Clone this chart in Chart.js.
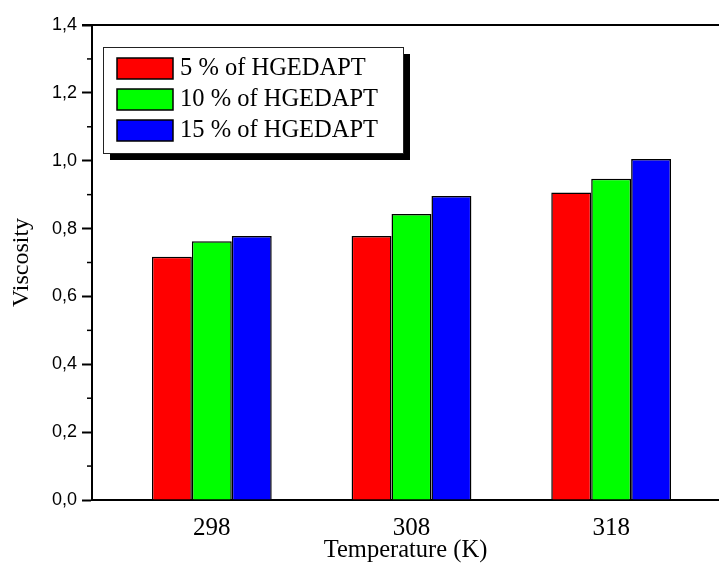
<!DOCTYPE html>
<html>
<head>
<meta charset="utf-8">
<script src="https://cdn.jsdelivr.net/npm/chart.js@4/dist/chart.umd.min.js"></script>
<style>
  html, body { margin: 0; padding: 0; background: #fff; }
  canvas { display: block; }
</style>
</head>
<body>
<canvas id="c" width="719" height="565"></canvas>
<script>
// Temperatures (K) on the x axis
const temperatures = [298, 308, 318];
// Viscosity for each HGEDAPT concentration
const series5 = [0.717, 0.778, 0.906];
const series10 = [0.763, 0.843, 0.947];
const series15 = [0.778, 0.896, 1.005];
const seriesLabels = ['5 % of HGEDAPT', '10 % of HGEDAPT', '15 % of HGEDAPT'];
const seriesColors = ['#ff0000', '#00ff00', '#0000ff'];
const yTicks = [0, 0.2, 0.4, 0.6, 0.8, 1.0, 1.2, 1.4];
const yMinorTicks = [0.1, 0.3, 0.5, 0.7, 0.9, 1.1, 1.3];

const serif = '"Liberation Serif", "Times New Roman", serif';
const sans = '"Liberation Sans", Arial, sans-serif';

function toPoints(vals) {
  return vals.map((v, i) => ({ x: temperatures[i], y: v }));
}

const allSeries = [series5, series10, series15];
const datasets = allSeries.map((vals, i) => ({
  label: seriesLabels[i],
  data: toPoints(vals),
  backgroundColor: seriesColors[i],
  borderColor: '#000',
  borderWidth: 1.5,
  borderSkipped: 'bottom',
  categoryPercentage: 0.6,
  barPercentage: 1.0
}));

// Frame line on top, minor y ticks and the boxed legend with its drop shadow
const decorations = {
  id: 'decorations',
  afterDraw(chart) {
    const ctx = chart.ctx;
    const area = chart.chartArea;
    const y = chart.scales.y;
    ctx.save();
    ctx.strokeStyle = '#000';
    ctx.lineWidth = 2;
    ctx.beginPath();
    ctx.moveTo(area.left - 10, area.top);
    ctx.lineTo(area.right, area.top);
    ctx.stroke();
    ctx.lineWidth = 1.5;
    yMinorTicks.forEach(v => {
      const py = y.getPixelForValue(v);
      ctx.beginPath();
      ctx.moveTo(area.left - 5, py);
      ctx.lineTo(area.left, py);
      ctx.stroke();
    });

    // legend
    const bx = 103, by = 47, bw = 300, bh = 106;
    ctx.fillStyle = '#000';
    ctx.fillRect(bx + 7, by + 7, bw, bh);
    ctx.fillStyle = '#fff';
    ctx.fillRect(bx, by, bw, bh);
    ctx.strokeStyle = '#222';
    ctx.lineWidth = 1;
    ctx.strokeRect(bx + 0.5, by + 0.5, bw, bh);
    ctx.font = '24.5px ' + serif;
    ctx.textBaseline = 'middle';
    ctx.textAlign = 'left';
    chart.data.datasets.forEach((ds, i) => {
      const rowY = by + 11 + i * 31;
      ctx.fillStyle = ds.backgroundColor;
      ctx.fillRect(bx + 14, rowY, 56, 21);
      ctx.strokeStyle = '#000';
      ctx.lineWidth = 1.5;
      ctx.strokeRect(bx + 14, rowY, 56, 21);
      ctx.fillStyle = '#000';
      ctx.fillText(ds.label, bx + 77, rowY + 11);
    });
    ctx.restore();
  }
};

new Chart(document.getElementById('c'), {
  type: 'bar',
  data: { datasets },
  plugins: [decorations],
  options: {
    responsive: false,
    animation: false,
    layout: { padding: { left: 0, right: 0, top: 25, bottom: 0 } },
    plugins: {
      legend: { display: false },
      tooltip: { enabled: false }
    },
    scales: {
      x: {
        type: 'linear',
        min: 292,
        max: 323.4,
        offset: false,
        afterBuildTicks(scale) {
          scale.ticks = temperatures.map(v => ({ value: v }));
        },
        afterFit(scale) { scale.height = 65; },
        ticks: {
          autoSkip: false,
          maxRotation: 0,
          padding: 13,
          color: '#000',
          font: { family: serif, size: 25 },
          callback: v => String(v)
        },
        grid: { display: false, drawTicks: false, offset: false },
        border: { display: true, color: '#000', width: 2 },
        title: {
          display: true,
          text: 'Temperature (K)',
          color: '#000',
          font: { family: serif, size: 24.5 },
          padding: { top: 0, bottom: 0 }
        }
      },
      y: {
        min: 0,
        max: 1.4,
        afterBuildTicks(scale) {
          scale.ticks = yTicks.map(v => ({ value: v }));
        },
        afterFit(scale) { scale.width = 92; },
        ticks: {
          padding: 5,
          color: '#000',
          font: { family: sans, size: 18 },
          callback: v => Number(v).toFixed(1).replace('.', ',')
        },
        grid: {
          drawOnChartArea: false,
          drawTicks: true,
          tickLength: 10,
          tickWidth: 2,
          tickColor: '#000'
        },
        border: { display: true, color: '#000', width: 2 },
        title: {
          display: true,
          text: 'Viscosity',
          color: '#000',
          font: { family: serif, size: 24 },
          padding: { top: 7, bottom: 0 }
        }
      }
    }
  }
});
</script>
</body>
</html>
